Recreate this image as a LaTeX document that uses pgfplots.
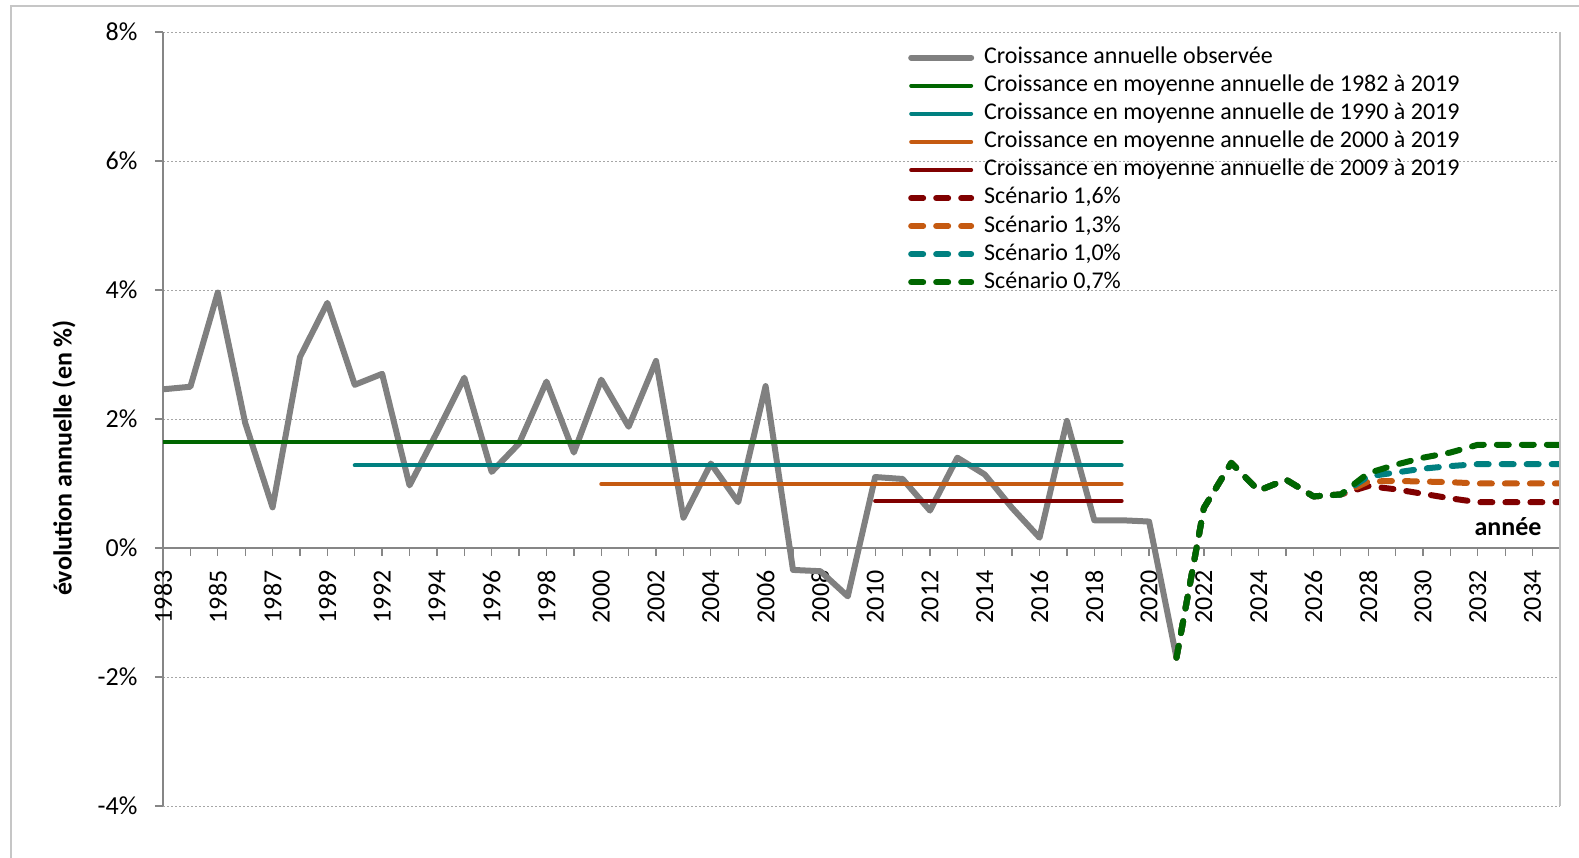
\documentclass[border=0pt]{standalone}
\usepackage{fontspec}
\setmainfont{Carlito}
\usepackage{pgfplots}
\pgfplotsset{compat=1.18}
\usepackage{pgfplotstable}

\definecolor{obsgray}{HTML}{808080}
\definecolor{cgreen}{HTML}{006600}
\definecolor{cteal}{HTML}{008080}
\definecolor{corange}{HTML}{C55A11}
\definecolor{cred}{HTML}{800000}
\definecolor{gridgray}{HTML}{A6A6A6}
\definecolor{axgray}{HTML}{868686}

% observed annual growth (index 0 = 1983)
\pgfplotstableread{
i v
0 2.46
1 2.50
2 3.96
3 1.94
4 0.63
5 2.96
6 3.80
7 2.53
8 2.70
9 0.97
10 1.79
11 2.64
12 1.18
13 1.62
14 2.58
15 1.48
16 2.61
17 1.88
18 2.90
19 0.47
20 1.31
21 0.71
22 2.51
23 -0.34
24 -0.36
25 -0.75
26 1.10
27 1.07
28 0.58
29 1.40
30 1.14
31 0.62
32 0.16
33 1.97
34 0.43
35 0.43
36 0.41
37 -1.70
}\obs

\pgfplotstableread{
i v
37 -1.70
38 0.62
39 1.32
40 0.89
41 1.06
42 0.80
43 0.83
44 0.96
45 0.91
46 0.84
47 0.77
48 0.71
49 0.71
50 0.71
51 0.71
}\scred

\pgfplotstableread{
i v
37 -1.70
38 0.62
39 1.32
40 0.89
41 1.06
42 0.80
43 0.83
44 1.03
45 1.04
46 1.03
47 1.02
48 1.00
49 1.00
50 1.00
51 1.00
}\scorange

\pgfplotstableread{
i v
37 -1.70
38 0.62
39 1.32
40 0.89
41 1.06
42 0.80
43 0.83
44 1.11
45 1.17
46 1.23
47 1.27
48 1.30
49 1.30
50 1.30
51 1.30
}\scteal

\pgfplotstableread{
i v
37 -1.70
38 0.62
39 1.32
40 0.89
41 1.06
42 0.80
43 0.83
44 1.16
45 1.29
46 1.40
47 1.48
48 1.60
49 1.60
50 1.60
51 1.60
}\scgreen

\begin{document}
\begin{tikzpicture}
\path[use as bounding box] (0pt,0pt) rectangle (1579pt,858pt);
\draw[gray!45, line width=1.5pt] (11pt,0pt) -- (11pt,852pt) -- (1579pt,852pt);
\begin{axis}[
  at={(163pt,52pt)}, anchor=south west,
  scale only axis, width=1397pt, height=774pt,
  xmin=0, xmax=51, ymin=-4, ymax=8,
  clip mode=individual,
  axis x line*=middle, axis y line*=left,
  hide obscured x ticks=false, hide obscured y ticks=false,
  axis line style={axgray, line width=1.3pt},
  xtick={0,2,...,50}, minor xtick={1,3,...,51},
  xticklabels={1983,1985,1987,1989,1992,1994,1996,1998,2000,2002,2004,2006,2008,2010,2012,2014,2016,2018,2020,2022,2024,2026,2028,2030,2032,2034},
  ytick={-4,-2,...,8},
  yticklabels={-4\%,-2\%,0\%,2\%,4\%,6\%,8\%},
  major tick length=8pt, minor tick length=8pt,
  tick align=outside,
  tick style={axgray, line width=1.3pt},
  ymajorgrids,
  grid style={gridgray, line width=0.9pt, dash pattern=on 2pt off 2pt},
  tick label style={font=\fontsize{26}{30}\selectfont},
  xticklabel style={rotate=90, anchor=east},
  xticklabel shift=11pt,
  yticklabel style={anchor=east},
  yticklabel shift=14pt,
  legend style={at={(rel axis cs:0.5333,0.9854)}, anchor=north west, draw=none, fill=none,
    font=\fontsize{24}{28}\selectfont, row sep=0pt, inner sep=0pt,
    nodes={inner sep=0pt, inner xsep=10pt, text height=20pt, text depth=8.1pt}},
  legend cell align=left,
  legend image code/.code={\draw[#1] (0pt,0pt) -- (60pt,0pt);},
]
\addplot[obsgray, line width=6pt, line join=round, line cap=round] table[x=i,y=v] {\obs};
\addlegendentry{Croissance annuelle observée}
\addplot[cgreen, line width=4pt, line cap=round] coordinates {(0,1.65) (35,1.65)};
\addlegendentry{Croissance en moyenne annuelle de 1982 à 2019}
\addplot[cteal, line width=4pt, line cap=round] coordinates {(7,1.28) (35,1.28)};
\addlegendentry{Croissance en moyenne annuelle de 1990 à 2019}
\addplot[corange, line width=4pt, line cap=round] coordinates {(16,0.99) (35,0.99)};
\addlegendentry{Croissance en moyenne annuelle de 2000 à 2019}
\addplot[cred, line width=4pt, line cap=round] coordinates {(26,0.73) (35,0.73)};
\addlegendentry{Croissance en moyenne annuelle de 2009 à 2019}
\addplot[cred, line width=6pt, line cap=round, line join=round, dash pattern=on 12pt off 13pt] table[x=i,y=v] {\scred};
\addlegendentry{Scénario 1,6\%}
\addplot[corange, line width=6pt, line cap=round, line join=round, dash pattern=on 12pt off 13pt] table[x=i,y=v] {\scorange};
\addlegendentry{Scénario 1,3\%}
\addplot[cteal, line width=6pt, line cap=round, line join=round, dash pattern=on 12pt off 13pt] table[x=i,y=v] {\scteal};
\addlegendentry{Scénario 1,0\%}
\addplot[cgreen, line width=6pt, line cap=round, line join=round, dash pattern=on 12pt off 13pt] table[x=i,y=v] {\scgreen};
\addlegendentry{Scénario 0,7\%}
\draw[gray!50, line width=1.5pt] (rel axis cs:1,0) -- (rel axis cs:1,1);
\node[font=\bfseries\fontsize{26}{30}\selectfont, anchor=base] at (rel axis cs:0.9628,0.349) {année};
\node[font=\bfseries\fontsize{26}{30}\selectfont, rotate=90] at (rel axis cs:-0.0709,0.4496) {évolution annuelle (en \%)};
\end{axis}
\end{tikzpicture}
\end{document}
